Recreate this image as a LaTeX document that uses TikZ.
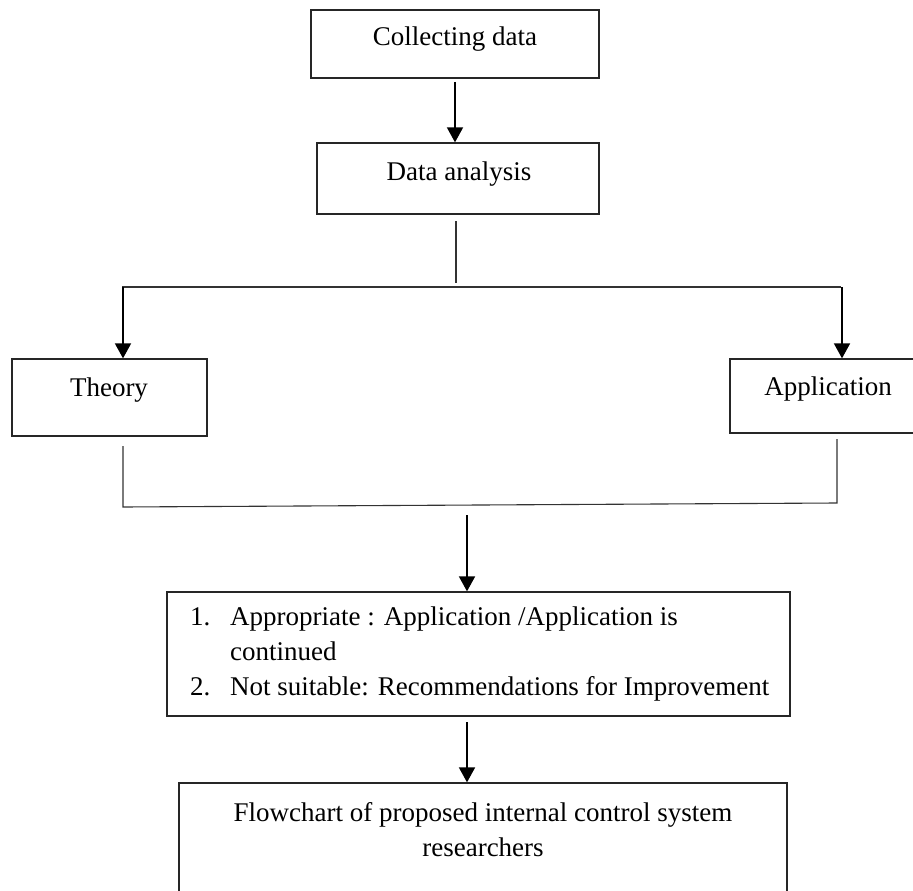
\documentclass[tikz,border=0pt]{standalone}
\usepackage{fontspec}
\setmainfont{Liberation Serif}
\usetikzlibrary{arrows.meta}
\begin{document}
\begin{tikzpicture}[x=1pt,y=-1pt,
  box/.style={draw=black!85, line width=1.3pt, inner sep=0pt},
  arr/.style={draw=black, line width=1.8pt, -{Triangle[length=15pt,width=16pt]}},
  link/.style={draw=black!80, line width=1.1pt},
  txt/.style={font=\fontsize{27}{32}\selectfont, anchor=base, inner sep=0pt},
  txtl/.style={txt, anchor=base west}]
\useasboundingbox (0,0) rectangle (913,891);

% boxes
\node[box, minimum width=288pt, minimum height=68pt] (collect) at (455,44) {};
\node[box, minimum width=282pt, minimum height=71pt] (analysis) at (458,178.5) {};
\node[box, minimum width=195pt, minimum height=77pt] (theory) at (109.5,397.5) {};
\node[box, minimum width=196pt, minimum height=74pt] (appl) at (828,396) {};
\node[box, minimum width=623pt, minimum height=124pt] (eval) at (478.5,654) {};
\node[box, minimum width=608pt, minimum height=140pt] (result) at (483,853) {};

% texts
\node[txt] (tcollect) at (455,46) {Collecting data};
\node[txt] (tanalysis) at (459,180) {Data analysis};
\node[txt] (ttheory) at (109,396) {Theory};
\node[txt] (tappl) at (828,395) {Application};
\node[txtl] (n1) at (190,625) {1.};
\node[txtl] (l1) at (230,625) {Appropriate : Application /Application is};
\node[txtl] (l1b) at (230,660) {continued};
\node[txtl] (n2) at (190,695) {2.};
\node[txtl] (l2) at (230,695) {Not suitable: Recommendations for Improvement};
\node[txt] (r1) at (483,821) {Flowchart of proposed internal control system};
\node[txt] (r2) at (483,856) {researchers};

% branching points
\coordinate (stemtop) at (456,221);
\coordinate (stembot) at (456,283);
\coordinate (splitL) at (122,287);
\coordinate (splitR) at (841,287);
\coordinate (theorydown) at (123,446);
\coordinate (joinL) at (123,507);
\coordinate (appldown) at (837,439);
\coordinate (joinR) at (837,503);
\coordinate (joinstart) at (467,515);
\coordinate (evalstart) at (467,722);

% connectors
\draw[arr] (collect.south |- 0,82) -- (collect.south |- analysis.north);
\draw[link] (stemtop) -- (stembot);
\draw[link] (splitL) -- (splitR);
\draw[arr] (123,287) -- (123,0 |- theory.north);
\draw[arr] (842,287) -- (842,0 |- appl.north);
\draw[link] (theorydown) -- (joinL) -- (joinR) -- (appldown);
\draw[arr] (joinstart) -- (joinstart |- eval.north);
\draw[arr] (evalstart) -- (evalstart |- result.north);
\end{tikzpicture}
\end{document}
